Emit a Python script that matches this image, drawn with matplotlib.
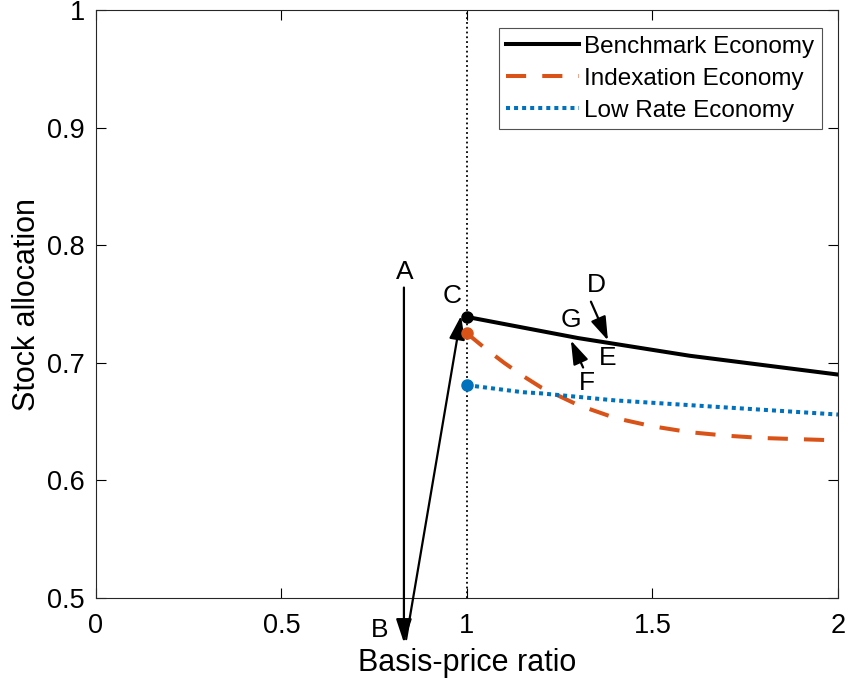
import numpy as np
import matplotlib
matplotlib.use("Agg")
import matplotlib.pyplot as plt

plt.rcParams["font.family"] = ["Liberation Sans", "DejaVu Sans"]

# ── Data ──────────────────────────────────────────────────────────────────
x_vals = [1.0, 1.05, 1.1, 1.15, 1.2, 1.3, 1.4, 1.5, 1.6, 1.7, 1.8, 1.9, 2.0]
benchmark = [0.739, 0.736, 0.733, 0.730, 0.727, 0.721, 0.716, 0.711,
             0.706, 0.702, 0.698, 0.694, 0.690]
indexation = [0.725, 0.712, 0.700, 0.689, 0.679, 0.664, 0.653, 0.646,
              0.641, 0.638, 0.636, 0.635, 0.634]
low_rate = [0.681, 0.679, 0.677, 0.675, 0.674, 0.671, 0.668, 0.666,
            0.664, 0.662, 0.660, 0.658, 0.656]

# annotation letters: (label, text x, text y)
labels = [("A", 0.833, 0.777), ("B", 0.765, 0.473), ("C", 0.960, 0.757),
          ("D", 1.348, 0.766), ("E", 1.380, 0.704), ("F", 1.323, 0.683),
          ("G", 1.280, 0.736)]
# arrows: (start, tip)
arrows = [((0.830, 0.764), (0.830, 0.462)),
          ((0.836, 0.465), (0.984, 0.740)),
          ((1.334, 0.752), (1.380, 0.719)),
          ((1.313, 0.696), (1.280, 0.719))]

BLACK = "#000000"
ORANGE = "#D95319"
BLUE = "#0072BD"

fig = plt.figure(figsize=(8.48, 6.86), dpi=100)
ax = fig.add_axes([0.1132, 0.1283, 0.8750, 0.8571])

ax.axvline(1.0, color="black", linestyle=":", linewidth=1.3, zorder=1)

ax.plot(x_vals, benchmark, color=BLACK, linewidth=2.9, label="Benchmark Economy", zorder=3)
ax.plot(x_vals, indexation, color=ORANGE, linewidth=2.9, linestyle=(0, (5, 4)),
        label="Indexation Economy", zorder=3)
ax.plot(x_vals, low_rate, color=BLUE, linewidth=2.9, linestyle=(0, (1, 1)),
        label="Low Rate Economy", zorder=3)

ax.plot(x_vals[0], benchmark[0], "o", color=BLACK, markersize=8, zorder=4)
ax.plot(x_vals[0], indexation[0], "o", color=ORANGE, markersize=8, zorder=4)
ax.plot(x_vals[0], low_rate[0], "o", color=BLUE, markersize=8, zorder=4)

for (x0, y0), (x1, y1) in arrows:
    ax.annotate("", xy=(x1, y1), xytext=(x0, y0), annotation_clip=False,
                arrowprops=dict(arrowstyle="-|>,head_length=0.6,head_width=0.2",
                                color="black", lw=1.6,
                                mutation_scale=24, shrinkA=0, shrinkB=0))
for txt, tx, ty in labels:
    ax.text(tx, ty, txt, fontsize=19, ha="center", va="center", clip_on=False)

ax.set_xlim(0, 2)
ax.set_ylim(0.5, 1)
ax.set_xticks([0, 0.5, 1, 1.5, 2])
ax.set_xticklabels(["0", "0.5", "1", "1.5", "2"])
ax.set_yticks([0.5, 0.6, 0.7, 0.8, 0.9, 1])
ax.set_yticklabels(["0.5", "0.6", "0.7", "0.8", "0.9", "1"])
ax.tick_params(direction="in", labelsize=19.5, length=7, top=True, right=True, pad=8)
ax.tick_params(axis="x", pad=11)
for s in ax.spines.values():
    s.set_linewidth(0.8)
    s.set_color("#262626")

ax.set_xlabel("Basis-price ratio", fontsize=22, labelpad=6)
ax.set_ylabel("Stock allocation", fontsize=22, labelpad=4)

leg = ax.legend(loc="upper right", fontsize=17.5, frameon=True, fancybox=False,
                edgecolor="#262626", handlelength=3.0, borderpad=0.3,
                labelspacing=0.42, handletextpad=0.2, borderaxespad=0,
                bbox_to_anchor=(0.978, 0.969))
leg.get_frame().set_linewidth(0.8)

fig.savefig("out.png", dpi=100)
